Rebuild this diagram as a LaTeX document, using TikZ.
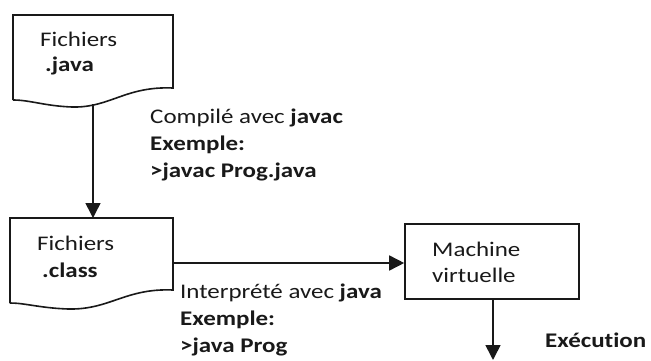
\documentclass[tikz,border=0pt]{standalone}
\usepackage{fontspec}
\setmainfont{Carlito}[FakeStretch=1.2, Ligatures={NoCommon}, RawFeature={-liga;-clig}]
\usetikzlibrary{arrows.meta}
\tikzset{
  outline/.style={draw=black!90, line width=1.6pt},
  flow/.style={draw=black!90, line width=1.6pt, -{Triangle[length=15pt,width=15pt]}},
  txt/.style={anchor=base west, inner sep=0pt, font=\fontsize{20.8}{24}\selectfont, text=black!90},
}
\begin{document}
\begin{tikzpicture}[x=1pt,y=-1pt]
\useasboundingbox (0,0) rectangle (651,361);

% source files (document shape)
\draw[outline] (13,100) -- (13,15) -- (173,15) -- (173,88)
  .. controls (125,86) and (110,108) .. (72,107)
  .. controls (45,106) and (30,100) .. (13,100);
\coordinate (javaout) at (93,104);
\node[txt] (java1) at (40,47) {Fichiers};
\node[txt] (java2) at (45,72) {\textbf{.java}};

% bytecode files (document shape)
\draw[outline] (10,303) -- (10,218) -- (173,218) -- (173,290)
  .. controls (125,288) and (110,310) .. (68,309)
  .. controls (40,308) and (25,303) .. (10,303);
\coordinate (classin) at (93,218);
\coordinate (classout) at (173,263);
\node[txt] (class1) at (37,250) {Fichiers};
\node[txt] (class2) at (42,277) {\textbf{.class}};

% virtual machine
\node[outline, rectangle, minimum width=174pt, minimum height=75pt, inner sep=0pt] (jvm) at (492,261.5) {};
\node[txt] (jvm1) at (432,256) {Machine};
\node[txt] (jvm2) at (432,282) {virtuelle};
\coordinate (run) at (493,360);

% connectors
\draw[flow] (javaout) -- (classin);
\draw[flow] (classout) -- (classout -| jvm.west);
\draw[flow] (jvm.south -| run) -- (run);

% labels
\node[txt] (c1) at (150,123) {Compilé avec \textbf{javac}};
\node[txt] (c2) at (150,150) {\textbf{Exemple:}};
\node[txt] (c3) at (150,177) {\textbf{>javac Prog.java}};

\node[txt] (i1) at (180,298) {Interprété avec \textbf{java}};
\node[txt] (i2) at (180,325) {\textbf{Exemple:}};
\node[txt] (i3) at (180,352) {\textbf{>java Prog}};

\node[txt] (exec) at (545,347) {\textbf{Exécut\kern0pt ion}};
\end{tikzpicture}
\end{document}
